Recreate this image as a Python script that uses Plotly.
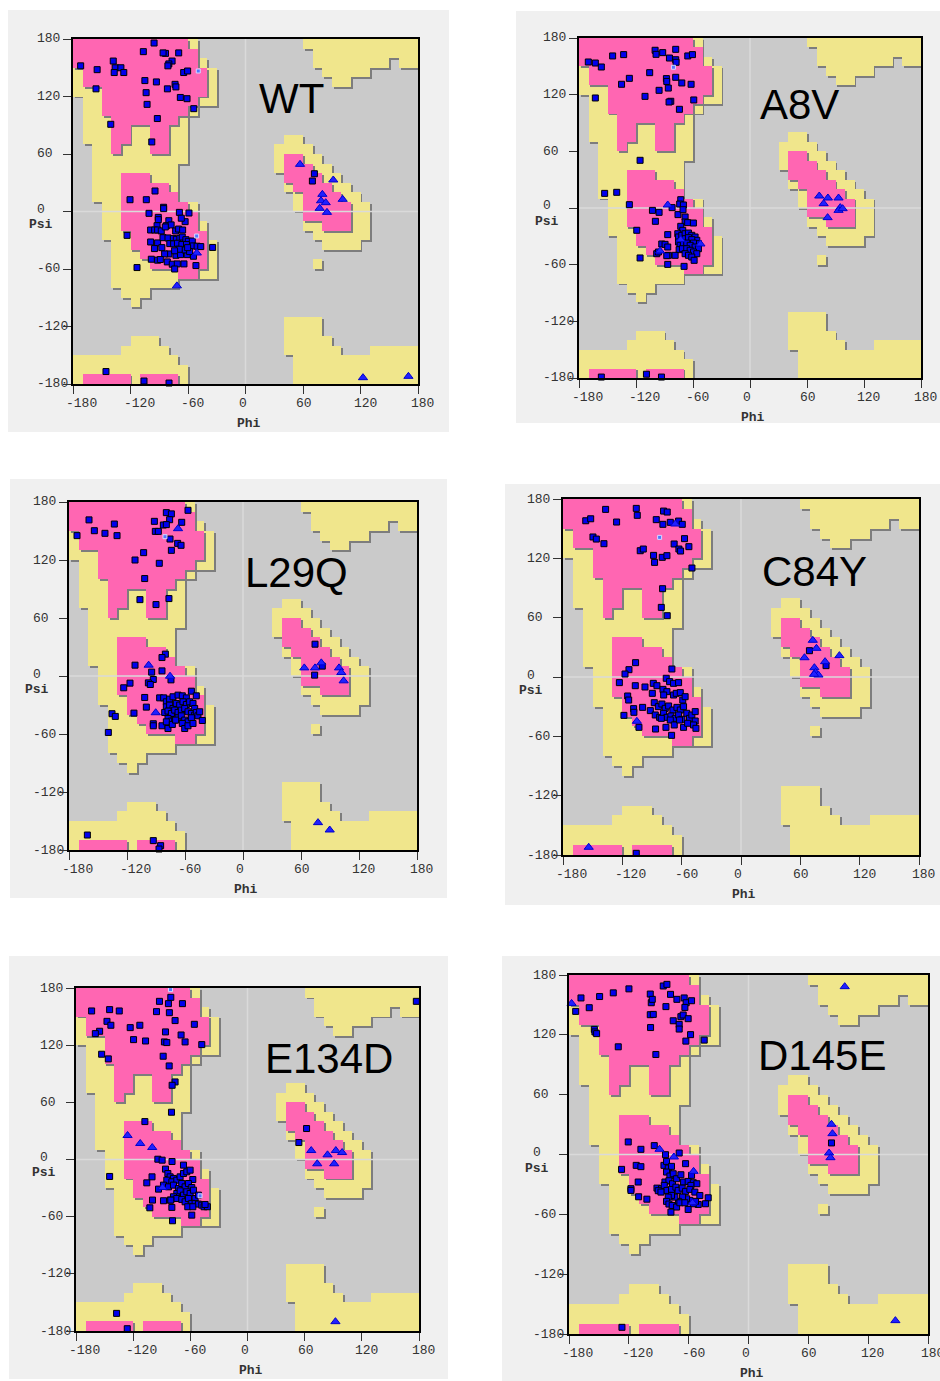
import numpy as np
import plotly.graph_objects as go

# ---------------- background regions (10-degree cells: phi_start, psi_low, psi_high) ----------------
ALLOWED = [
    (-180, 120, 180), (-170, 70, 180), (-160, 10, 180), (-150, -30, 180),
    (-140, -80, 180), (-130, -90, 180), (-120, -100, 180), (-110, -90, 180),
    (-100, -80, 180), (-90, -80, 180), (-80, -80, 180),
    (-70, -70, 10), (-70, 50, 180), (-60, -70, 10), (-60, 100, 180),
    (-50, -70, -10), (-50, 110, 160), (-40, -70, -30), (-40, 110, 150),
    (-180, -180, -150), (-170, -180, -150), (-160, -180, -150), (-150, -180, -150), (-140, -180, -150),
    (-130, -180, -140), (-120, -180, -130), (-110, -180, -130), (-100, -180, -130),
    (-90, -180, -140), (-80, -180, -150), (-70, -180, -160),
    (30, 40, 70), (40, 20, 80), (50, 0, 80), (60, -20, 70), (70, -30, 60), (70, -60, -50),
    (80, -40, 50), (90, -40, 40), (100, -40, 30), (110, -40, 20), (120, -30, 10),
    (40, -150, -110), (50, -180, -110), (60, -180, -110), (70, -180, -110), (80, -180, -130),
    (90, -180, -140), (100, -180, -150), (110, -180, -150), (120, -180, -150),
    (130, -180, -140), (140, -180, -140), (150, -180, -140), (160, -180, -140), (170, -180, -140),
    (60, 170, 180), (70, 150, 180), (80, 140, 180), (90, 130, 180), (100, 130, 180),
    (110, 140, 180), (120, 140, 180), (130, 150, 180), (140, 150, 180), (150, 160, 180),
    (160, 150, 180), (170, 150, 180),
]
FAVORED = [
    (-180, 150, 180), (-170, 130, 180), (-160, 130, 180), (-150, 100, 180), (-140, 60, 180),
    (-130, 70, 180), (-120, 90, 180), (-110, 90, 180), (-100, 60, 180), (-90, 60, 180),
    (-80, 90, 180), (-70, 100, 180), (-60, 110, 170), (-50, 120, 150),
    (-130, -20, 40), (-120, -40, 40), (-110, -50, 40), (-100, -60, 30), (-90, -60, 30),
    (-80, -60, 20), (-70, -70, 10), (-60, -70, 0), (-50, -60, -20),
    (-170, -180, -170), (-160, -180, -170), (-150, -180, -170), (-140, -180, -170), (-130, -180, -170),
    (-110, -180, -170), (-100, -180, -170), (-90, -180, -170), (-80, -180, -170),
    (40, 30, 60), (50, 20, 60), (60, -10, 50), (70, -10, 40), (80, -20, 30), (90, -20, 20), (100, -20, 10),
]

TICKS = [-180, -120, -60, 0, 60, 120, 180]

# ---------------- residues (phi, psi) ----------------
WT_SQUARES = [
    (-95.4, 175.8), (-106.6, 166.8), (-83.5, 165), (-86, 165.5), (-69.7, 165.5), (-138, 157), (-136, 150),
    (-137, 145), (-130, 150), (-127, 145), (-172, 152), (-154.8, 148), (-76.6, 157), (-80, 154), (-81, 152),
    (-64.5, 145), (-60.4, 146.6), (-156, 128), (-105, 136.6), (-93, 135.2), (-81.5, 128), (-73.5, 132.7),
    (-72.6, 130), (-103.7, 124), (-68, 119), (-61, 117.7), (-54, 107.3), (-102.7, 111.8), (-92, 97),
    (-140.6, 91), (-97.8, 72.6),
    (-94.4, 21.4), (-120.5, 12.3), (-103.5, 12.3), (-85.5, 4.4),
    (-100.7, -1.9), (-85.4, 3), (-69, -0.9), (-59, -1.6), (-91, -6.1), (-91, -8.5), (-80, -9.6), (-63, -10.6),
    (-67, -7), (-82.5, -14.8), (-77.6, -14), (-92.3, -14.8), (-99, -19.3), (-94.8, -19.3), (-91.7, -19.3),
    (-87.9, -20.3), (-83.7, -16.1), (-72.9, -20.3), (-69.8, -18.3), (-65.6, -19.3), (-123.6, -24.9),
    (-99, -31.8), (-91.7, -32.8), (-86.1, -27.3), (-80.9, -27.6), (-75.3, -28.3), (-72.2, -29), (-68.5, -28),
    (-66, -26.6), (-62.2, -29.4), (-59.7, -31.1), (-55.5, -30.8), (-79, -33.5), (-75, -33.8), (-71, -33.1),
    (-66.4, -34.5), (-61.6, -34.5), (-54.7, -35.9), (-50.5, -36.2), (-46.7, -36.6), (-95, -38.7),
    (-87.3, -37.7), (-80, -44.3), (-84.4, -44.3), (-72.6, -45.7), (-67.8, -45), (-60.8, -45), (-54.3, -46.7),
    (-98.3, -49.8), (-91.7, -50.8), (-88.9, -50.1), (-81.6, -52.6), (-76.4, -55), (-71.2, -54.7),
    (-64.2, -54.7), (-73.9, -60), (-51.7, -56.4), (-34.3, -37.5), (-113.2, -58.5), (-63.1, -40.1),
    (-58.3, -41.8), (-60.4, -37.7), (-69.2, -39.4), (-74, -41),
    (71.9, 39.4), (69.8, 31.8),
    (-145.6, -167), (-105.9, -176.9), (-79.8, -179),
]
WT_TRIANGLES = [
    (-71.6, -77.6), (-50.8, -43.3), (56.9, 49.2), (91.6, 32.9), (101.4, 12.7), (80.2, 17.9), (78.8, 11.2),
    (83.7, 9.2), (77.4, 3.3), (85, -0.9), (122.6, -173.4), (170, -172),
]
WT_MARKED = [(-49.3, 146.6), (-51, -25.6)]

A8V_SQUARES = [
    (-170.2, 154.6), (-162.8, 153.5), (-156.5, 149.3), (-144.6, 161), (-133, 162.4), (-99.9, 167),
    (-98.9, 162.7), (-91.9, 164.5), (-78.2, 168), (-78.2, 157), (-77.8, 154.3), (-84.8, 158.8), (-65.5, 161),
    (-60.6, 162.4), (-135.2, 131), (-127, 137.3), (-105.6, 143.3), (-88, 137), (-87.6, 134), (-78.2, 138.4),
    (-71.8, 132.4), (-62, 131), (-95.7, 124.6), (-86, 127), (-110.5, 118.2), (-162.8, 116.5), (-59.2, 114.4),
    (-83.4, 113), (-85.2, 112.2), (-74.3, 104.5),
    (-115.7, 50.5), (-153, 15.5), (-140.3, 16.6), (-127, 3.5),
    (-82, 0.4), (-72.9, 8.8), (-74, 4.2), (-70.1, 3.2), (-75.8, -7), (-70.5, -1.8), (-102.7, -2.5),
    (-95.7, -4.6), (-99.6, -14.1), (-68.3, -9.5), (-68.3, -14.8), (-65.6, -15.5), (-59.6, -15.9),
    (-72.9, -19.4), (-119.2, -23.6), (-70.8, -23.6), (-86.6, -28.2), (-76, -27.2),
    (-75.3, -30.7), (-71.8, -28.9), (-68.3, -27.2), (-64.8, -26.5), (-61.3, -28.9), (-57.8, -30.7),
    (-56, -34.2), (-54.3, -37.8), (-75.3, -36), (-71.8, -34.2), (-68.3, -32.5), (-64.8, -31.4),
    (-61.3, -33.5), (-59.5, -37.1), (-73.6, -39.5), (-70.1, -38.5), (-66.6, -37.1), (-63, -39.5),
    (-57.8, -41.3), (-54.3, -43.1), (-74.6, -44.1), (-71.1, -43.1), (-66.6, -43.1), (-63, -44.8),
    (-59.5, -46.6), (-56, -48.4), (-68.3, -48.4), (-64.8, -50.1), (-61.3, -51.9), (-58.8, -55.4),
    (-78.8, -50.1), (-85.9, -50.1), (-92.9, -38.1), (-89.4, -38.5), (-86.6, -41.3), (-98.2, -48.4),
    (-96.4, -46.6), (-87.6, -50.5), (-69.4, -61.8), (-86.6, -59.7), (-115.7, -52.9),
    (-156.5, -179), (-109, -176), (-93.2, -179),
]
A8V_TRIANGLES = [
    (-86.6, 3.2), (-94.7, -45.5), (-72.9, -33.5), (-52.2, -38.1), (72.9, 12.7), (82, 10.6), (77.5, 4.6),
    (93.2, 10.6), (95, 0.4), (93.2, -2.5), (97.5, -0.7), (81.7, -10.2),
]
A8V_MARKED = [(-80.6, 149)]

L29Q_SQUARES = [
    (-56.9, 171.4), (-79.3, 169), (-74.1, 167.7), (-159.3, 161.5), (-133.1, 157.2), (-91.7, 160),
    (-75.9, 161.7), (-63.4, 159), (-82.4, 156.2), (-79.3, 156.6), (-153.8, 150.3), (-142.8, 147.6),
    (-130.3, 145.2), (-171.7, 145.2), (-90.7, 149.6), (-87.6, 149.6), (-75.5, 141.7), (-67.6, 137.2),
    (-64.1, 135.2), (-74.1, 130), (-102.8, 127.6), (-111.7, 120), (-86.6, 116.6), (-101.7, 100.8),
    (-106.6, 79), (-90, 73.9), (-76.6, 80.1),
    (-80.3, 22.6), (-83.8, 19.1), (-111.7, 11.2), (-83.8, 5.3), (-94.5, 4), (-92.8, -3.6), (-97.9, -7.1),
    (-95.9, -8.8), (-116.9, -7.4), (-123.4, -12.2), (-74.5, -4), (-101.7, -22.2), (-100, -32.2),
    (-112.8, -38.4), (-135.5, -39), (-132.1, -41.8), (-139.3, -58.4), (-92.8, -49.4), (-92.8, -51.5),
    (-83.8, -51.5),
    (-86.2, -22.6), (-82.1, -22.6), (-79.3, -26.7), (-75.9, -23.9), (-72.4, -21.5), (-67.2, -19.8),
    (-62.8, -20.5), (-58.6, -22.6), (-53.4, -15.7), (-48.3, -20.5), (-79.3, -31.9), (-75.9, -30.1),
    (-72.4, -33.6), (-69, -28.4), (-65.5, -30.1), (-62.1, -26.7), (-58.6, -29.5), (-55.2, -26.7),
    (-51.7, -28.4), (-50, -33.6), (-81, -37.7), (-77.6, -36.3), (-74.1, -38.8), (-70.7, -35.3),
    (-67.2, -37.7), (-63.8, -35.3), (-60.3, -33.6), (-56.9, -37), (-53.4, -38.8), (-50, -40.5),
    (-48.3, -37.7), (-77.6, -43.9), (-74.1, -46.7), (-70.7, -45.6), (-67.2, -43.2), (-63.8, -41.2),
    (-60.3, -45.6), (-56.9, -47.4), (-53.4, -43.2), (-46.6, -41.2), (-42.1, -46), (-79.3, -47.4),
    (-77.6, -54.3), (-73.1, -50.1), (-69.7, -45.6), (-62.8, -49.1), (-60.3, -54.3), (-56.9, -51.5),
    (-51.7, -49.1), (-44.8, -37),
    (74.5, 32.9), (74.1, 0.9), (82, 10.2),
    (-161, -164.5), (-92.8, -170.3), (-85.2, -175.5), (-86.9, -179),
]
L29Q_TRIANGLES = [
    (-67.2, 152.4), (-97.6, 11.2), (-75.5, -0.2), (-90.3, -38), (63.4, 8.4), (74.5, 8.4), (81, 13.6),
    (99.3, 8.4), (101.7, 3.6), (104.1, -5), (77.6, -151.7), (89.7, -159.3),
]
L29Q_MARKED = [(-80.7, 144.1)]

C84Y_SQUARES = [
    (-136.9, 169.5), (-105.9, 170.5), (-104.9, 163.5), (-78.3, 167.8), (-74.6, 166.8), (-157, 158),
    (-152, 160), (-125.8, 156.7), (-85.7, 159.1), (-79, 154.4), (-71.5, 156.4), (-63.1, 157.7),
    (-59.4, 154.4), (-149.7, 141.6), (-146.3, 139.5), (-138.6, 134.8), (-57.1, 139.9), (-67.6, 134.5),
    (-62.8, 129.4), (-61.1, 127.4), (-52.7, 131.8), (-101.9, 127.7), (-98.8, 129.4), (-88.4, 123),
    (-87.4, 115.9), (-79.6, 121), (-74.9, 122.7), (-49.6, 110.2), (-79.3, 89.3), (-80.6, 70.4), (-74.6, 62),
    (-106.6, 14.5), (-113.3, 7.4), (-117.3, 3), (-69.9, 8.1), (-123, -5.7), (-106.9, -8.8), (-97.1, -10.1),
    (-114.6, -19.2), (-113.6, -23.3), (-108.6, -32), (-108.3, -35.7), (-118.4, -38.8), (-99.5, -30.7),
    (-88.7, -6.4), (-85, -8.8), (-89.7, -16.5), (-75.6, -1.3), (-72.2, -4.7), (-68.2, -6.4), (-63.1, -5.7),
    (-78.9, -12.5), (-74.9, -14.8), (-78.2, -18.2), (-68.2, -18.2), (-65.5, -16.5), (-61.4, -15.8),
    (-58.9, -23.3), (-56.5, -19.9), (-87.7, -26), (-83.6, -30), (-80, -27.3), (-76.6, -31.7), (-73.2, -29.3),
    (-68.9, -33.4), (-64.8, -30.7), (-61.4, -33.4), (-58.1, -30), (-91.7, -34), (-86.7, -38.4),
    (-82.3, -40.8), (-78.3, -36.7), (-74.9, -40.8), (-70.9, -39.4), (-66.5, -41.8), (-63.1, -38.4),
    (-59.8, -42.8), (-54.8, -36.7), (-52.1, -41.8), (-49.7, -38.4), (-46.3, -35), (-46.3, -44.5),
    (-86.4, -52.6), (-80.6, -41.8), (-75.9, -50.9), (-71.5, -43.5), (-67.5, -48.5), (-62.1, -43.5),
    (-58.1, -50.9), (-54, -46.8), (-48, -48.5), (-45.6, -51.9), (-70.2, -59), (-103.2, -50.9),
    (69.2, 26.6), (86, 11.5),
    (-105.9, -178.3),
]
C84Y_TRIANGLES = [
    (-66.5, 154.7), (-105.3, -44.8), (72.6, 37.1), (76.3, 29), (64.2, 19.5), (74.2, 9.4), (75.3, 4.7),
    (78.3, 2), (73.9, 2.7), (85, 15.5), (99.5, 21.6), (-154, -172.2),
]
C84Y_MARKED = [(-82.3, 141.2)]

E134D_SQUARES = [
    (-80.5, 170.2), (-92.4, 166), (-83, 163.6), (-68.3, 163.6), (-163.6, 155.9), (-144.7, 157.3),
    (-134.6, 155.9), (-95.5, 155.2), (-82, 154.1), (-76, 145.8), (-147.5, 145), (-143.4, 140.9),
    (-155.2, 134.6), (-159.7, 132.1), (-123.1, 138.4), (-113, 140.9), (-86.1, 133.9), (-69.7, 130.7),
    (-55.8, 141.9), (-119.6, 125.8), (-107, 124.4), (-87.2, 123.4), (-84.7, 122.7), (-65.5, 123.4),
    (-48, 120.6), (-153.1, 110.5), (-146.1, 105.6), (-88.5, 108.4), (-82.2, 98.2), (-76, 81.4),
    (-79.1, 77.9), (-79.8, 49.6), (-107.7, 39.8),
    (-94.1, 0.3), (-89.6, -0.7), (-79.2, -2.1), (-67.2, -5.9), (-144.7, -17.8), (-100.2, -18.2),
    (-105.7, -24.5), (-86.1, -10.1), (-83.6, -14.7), (-81.2, -18.2), (-77.7, -19.9), (-84.7, -21.7),
    (-79.4, -23.4), (-74.2, -21.7), (-70.7, -18.2), (-67.2, -14.7), (-63.7, -12.9), (-60.2, -11.2),
    (-57.4, -21), (-93.4, -31.1), (-88.2, -26.9), (-82.9, -28.7), (-77.7, -26.9), (-72.5, -30.4),
    (-69, -25.2), (-65.5, -28.7), (-62, -25.2), (-58.5, -29.4), (-74.2, -35.7), (-70.7, -32.9),
    (-67.2, -37.4), (-63.7, -33.9), (-60.2, -35.7), (-56.7, -32.2), (-55, -40.9), (-51.5, -37.4),
    (-77.7, -39.1), (-81.2, -42.6), (-74.2, -40.9), (-69, -41.9), (-65.5, -44.4), (-62, -40.9),
    (-58.5, -46.1), (-55, -46.1), (-51.5, -46.8), (-48, -47.9), (-45.6, -49.6), (-42.1, -49.6),
    (-44.5, -47.2), (-62.7, -49.6), (-57.4, -49.6), (-58.5, -58.4), (-79.4, -50.3), (-80.5, -42.6),
    (-88.2, -43.3), (-99.7, -42.6), (-102.5, -50.7), (-78.7, -64.3),
    (62, 32.5), (53.9, 17.8),
    (-137.4, -161.5), (-126.2, -177.6), (177.2, 166),
]
E134D_TRIANGLES = [
    (-125.9, 25.2), (-112.6, 16.8), (-100, 12.6), (-89.2, -29.4), (66.9, 9.4), (73.2, -4.5), (84, 4.9),
    (92.7, 9.4), (99.3, 7.3), (91, -4.5), (92.3, -170.2),
]
E134D_MARKED = [(-80.8, 178.3), (-49.8, -38.1)]

D145E_SQUARES = [
    (-85.5, 169), (-81.8, 170.6), (-119.9, 166.1), (-135.6, 162.1), (-149.3, 158.4), (-168, 157),
    (-98.5, 160.9), (-97.5, 152.2), (-96.5, 155.6), (-78.2, 160.6), (-64.5, 157), (-62.5, 152.2),
    (-63.8, 147.5), (-71.8, 155.6), (-57.1, 154.2), (-82.8, 148.3), (-159.7, 147.2), (-173.3, 143.5),
    (-98.5, 140.2), (-95.5, 140.5), (-67.8, 138.2), (-65.5, 139.9), (-60.5, 136.2), (-75.5, 134.1),
    (-69.5, 130.5), (-69.5, 125.8), (-154.6, 125.5), (-154, 122.9), (-152.3, 121.2), (-58.1, 120.2),
    (-98.2, 127.3), (-62.8, 113.7), (-44.4, 114.7), (-130.6, 108), (-92.9, 100.3),
    (-120.6, 12.6), (-107.9, 5.2), (-94.5, 8.9), (-83.2, -0.2), (-69.5, 1.5), (-127.3, -14.9),
    (-112.6, -10.9), (-107.9, -12.2), (-84.8, -10.9), (-82.2, -6.9), (-80.5, -13.6), (-77.2, -11.9),
    (-63.1, -9.2), (-110.6, -27.6), (-117.9, -34.3), (-117.9, -36), (-110.2, -42.4), (-101.9, -44.8),
    (-82.2, -17.6), (-78.8, -21.6), (-75.5, -19.3), (-83.8, -27.6), (-79.8, -26.3), (-76.2, -29.3),
    (-72.1, -24.3), (-67.8, -20.3), (-65.1, -27.6), (-60.5, -27), (-57.1, -20.9), (-55.4, -28.3),
    (-51.8, -29.3), (-57.8, -31), (-91.8, -33.7), (-87.2, -34.3), (-84.5, -31), (-81.8, -36), (-77.2, -35),
    (-72.8, -32.7), (-70.5, -36), (-66.5, -33.7), (-63.1, -37), (-58.8, -35), (-53.8, -37.7), (-48.8, -41.1),
    (-40.4, -43.4), (-43.1, -49.4), (-50.4, -50.1), (-55.4, -49.4), (-53.1, -47), (-58.8, -46),
    (-62.1, -44.4), (-66.1, -42.7), (-70.1, -47), (-73.8, -42.7), (-77.2, -41), (-80.5, -42.7), (-82.2, -47),
    (-79.8, -49.7), (-76.5, -51.1), (-72.1, -52.7), (-68.8, -48.4), (-63.8, -48.4), (-60.5, -55.1),
    (-77.8, -57.8), (-90.5, -36.3), (-87.8, -37.7),
    (83.2, 11.6),
    (-126.9, -173.3),
]
D145E_TRIANGLES = [
    (-177.4, 151.5), (-89.2, 5.2), (-74.8, -2.5), (-55.1, -16.9), (-56.1, -48.4), (83.2, 30.3), (84.2, 20.9),
    (80.8, 1.5), (82.2, -3.2), (96.5, 168.3), (147.3, -166.6),
]
D145E_MARKED = []

TITLES = ["WT", "A8V", "L29Q", "C84Y", "E134D", "D145E"]

# ---------------- layout geometry (pixels) ----------------
W, H = 940, 1381
PLOT_RECTS = [(73, 39, 418, 384), (579, 38, 921, 378), (69, 502, 417, 850),
              (563, 499, 919, 855), (76, 988, 419, 1331), (569, 975, 928, 1334)]
BG_RECTS = [(8, 10, 449, 432), (516, 11, 940, 423), (10, 479, 447, 898),
            (505, 484, 940, 905), (9, 956, 448, 1379), (502, 956, 940, 1381)]
TITLE_POS = [(257, 98), (758, 105), (243, 573), (760, 572), (263, 1058), (756, 1055)]

PINK = "#ff66b2"
YELLOW = "#f0e68c"
GRAY = "#cacaca"
SHADOW = "#7d7d7d"

centers = np.arange(-175, 180, 10)


def level_grid(spans):
    z = np.full((36, 36), np.nan)
    for phi0, lo, hi in spans:
        c = int((phi0 + 180) // 10)
        for r in range(36):
            psi_c = centers[r]
            if lo < psi_c < hi:
                z[r, c] = 1.0
    return z


Z_ALLOWED = level_grid(ALLOWED)
Z_FAVORED = level_grid(FAVORED)

fig = go.Figure()
shapes = []
annotations = []

panels = [
    (WT_SQUARES, WT_TRIANGLES, WT_MARKED),
    (A8V_SQUARES, A8V_TRIANGLES, A8V_MARKED),
    (L29Q_SQUARES, L29Q_TRIANGLES, L29Q_MARKED),
    (C84Y_SQUARES, C84Y_TRIANGLES, C84Y_MARKED),
    (E134D_SQUARES, E134D_TRIANGLES, E134D_MARKED),
    (D145E_SQUARES, D145E_TRIANGLES, D145E_MARKED),
]

SHIFT = 2.0
mono = "Liberation Mono, Courier New, monospace"

for i, (sq, tri, mk) in enumerate(panels):
    n = i + 1
    xa = "x" if n == 1 else f"x{n}"
    ya = "y" if n == 1 else f"y{n}"
    x0, y0, x1, y1 = PLOT_RECTS[i]
    bx0, by0, bx1, by1 = BG_RECTS[i]

    def one(c):
        return [[0, c], [1, c]]

    common = dict(showscale=False, zmin=0, zmax=1, hoverinfo="skip", xaxis=xa, yaxis=ya)
    fig.add_trace(go.Heatmap(x=centers + SHIFT, y=centers - SHIFT, z=Z_ALLOWED, colorscale=one(SHADOW), **common))
    fig.add_trace(go.Heatmap(x=centers, y=centers, z=Z_ALLOWED, colorscale=one(YELLOW), **common))
    fig.add_trace(go.Heatmap(x=centers + SHIFT, y=centers - SHIFT, z=Z_FAVORED, colorscale=one(SHADOW), **common))
    fig.add_trace(go.Heatmap(x=centers, y=centers, z=Z_FAVORED, colorscale=one(PINK), **common))
    # zero lines
    fig.add_trace(go.Scatter(x=[-180, 180, None, 0, 0], y=[0, 0, None, -180, 180], mode="lines",
                             line=dict(color="#dadada", width=1.5), hoverinfo="skip",
                             showlegend=False, xaxis=xa, yaxis=ya))
    fig.add_trace(go.Scatter(x=[p[0] for p in sq], y=[p[1] for p in sq], mode="markers",
                             marker=dict(symbol="square", size=6, color="#0000ee",
                                         line=dict(color="#000000", width=1)),
                             cliponaxis=False, showlegend=False, xaxis=xa, yaxis=ya))
    if mk:
        fig.add_trace(go.Scatter(x=[p[0] for p in mk], y=[p[1] for p in mk], mode="markers",
                                 marker=dict(symbol="square", size=4, color="#5577ff",
                                             line=dict(color="#d8d8ff", width=1)),
                                 cliponaxis=False, showlegend=False, xaxis=xa, yaxis=ya))
    fig.add_trace(go.Scatter(x=[p[0] for p in tri], y=[p[1] for p in tri], mode="markers",
                             marker=dict(symbol="triangle-up", size=8, color="#2020ff",
                                         line=dict(color="#0000cc", width=1)),
                             cliponaxis=False, showlegend=False, xaxis=xa, yaxis=ya))

    axis_common = dict(range=[-180, 180], showgrid=False, zeroline=False, showline=True,
                       linecolor="black", linewidth=2, mirror=True, ticks="outside", ticklen=8,
                       tickwidth=1, tickcolor="#333333", tickvals=TICKS, showticklabels=False,
                       fixedrange=True)
    fig.layout[("xaxis" if n == 1 else f"xaxis{n}")] = dict(
        domain=[x0 / W, x1 / W], anchor=ya, **axis_common)
    fig.layout[("yaxis" if n == 1 else f"yaxis{n}")] = dict(
        domain=[1 - y1 / H, 1 - y0 / H], anchor=xa, **axis_common)

    shapes.append(dict(type="rect", xref="paper", yref="paper", x0=bx0 / W, x1=bx1 / W,
                       y0=1 - by1 / H, y1=1 - by0 / H, fillcolor="#f0f0f0",
                       line=dict(width=0), layer="below"))
    shapes.append(dict(type="rect", xref="paper", yref="paper", x0=x0 / W, x1=x1 / W,
                       y0=1 - y1 / H, y1=1 - y0 / H, fillcolor=GRAY,
                       line=dict(width=0), layer="below"))

    for v in TICKS:
        annotations.append(dict(xref="paper", yref=ya, x=(x0 - 38) / W, y=v, text=str(v),
                                showarrow=False, xanchor="left", yanchor="middle",
                                yshift=2 if v == 0 else 0,
                                font=dict(family=mono, size=13, color="#333333")))
        annotations.append(dict(xref=xa, yref="paper", x=v, y=1 - (y1 + 19) / H, text=str(v),
                                showarrow=False, xanchor="left", yanchor="middle", xshift=-9,
                                font=dict(family=mono, size=13, color="#333333")))
    annotations.append(dict(xref="paper", yref=ya, x=(x0 - 46) / W, y=-14, text="<b>Psi</b>",
                            showarrow=False, xanchor="left", yanchor="middle",
                            font=dict(family=mono, size=13, color="#333333")))
    annotations.append(dict(xref="paper", yref="paper", x=((x0 + x1) / 2 + 3) / W, y=1 - (y1 + 39) / H,
                            text="<b>Phi</b>", showarrow=False, xanchor="center", yanchor="middle",
                            font=dict(family=mono, size=13, color="#333333")))
    tx, ty = TITLE_POS[i]
    annotations.append(dict(xref="paper", yref="paper", x=tx / W, y=1 - ty / H, text=TITLES[i],
                            showarrow=False, xanchor="left", yanchor="middle",
                            font=dict(family="Liberation Sans, Arial, sans-serif", size=42, color="black")))

fig.update_layout(width=W, height=H, margin=dict(l=0, r=0, t=0, b=0), paper_bgcolor="white",
                  plot_bgcolor=GRAY, showlegend=False, shapes=shapes, annotations=annotations)

fig.write_html("out.html", config={"displayModeBar": False},
               post_script="document.body.style.margin='0';document.body.style.overflow='hidden';")
